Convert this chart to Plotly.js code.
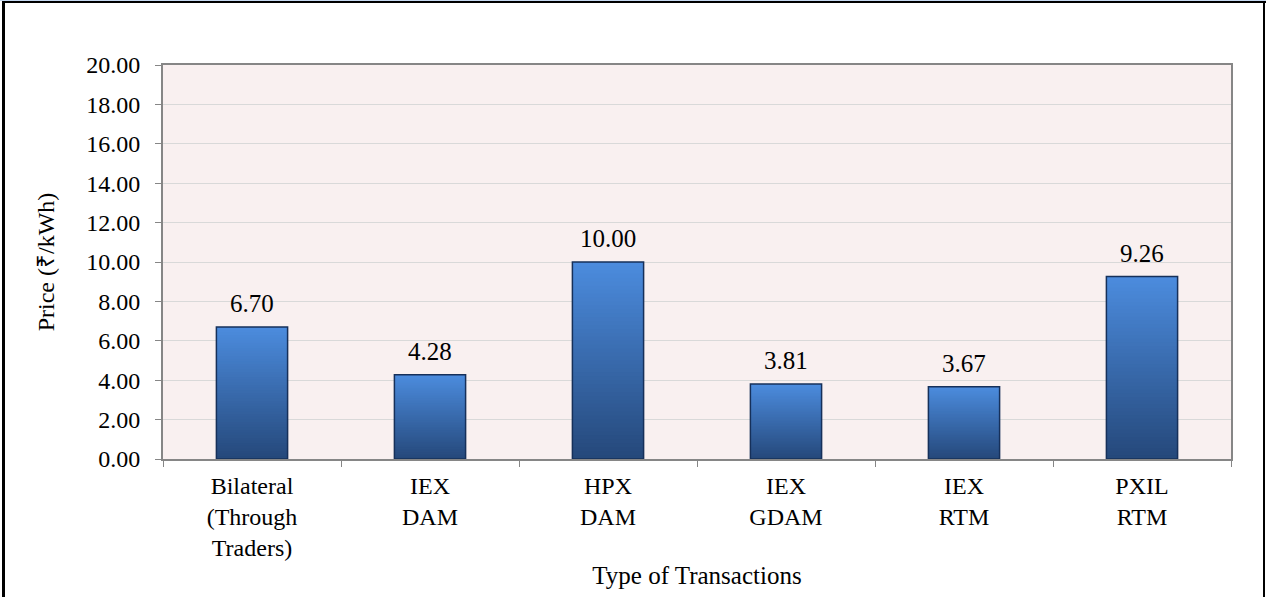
<!DOCTYPE html>
<html>
<head>
<meta charset="utf-8">
<script src="https://cdn.plot.ly/plotly-3.0.1.min.js"></script>
<style>
  html, body { margin: 0; padding: 0; background: #ffffff; }
  #wrap { position: relative; width: 1266px; height: 597px; overflow: hidden; }
  #chart { position: absolute; left: 0; top: 0; width: 1266px; height: 597px; }
  .edge { position: absolute; pointer-events: none; }
</style>
</head>
<body>
<div id="wrap">
  <div id="chart"></div>
  <div class="edge" style="left:0;top:0;width:1266px;height:1px;background:#c6d9f1;"></div>
  <div class="edge" style="left:2px;top:1px;width:1264px;height:2px;background:#000;"></div>
  <div class="edge" style="left:2px;top:1px;width:3px;height:596px;background:#000;"></div>
  <div class="edge" style="left:1263px;top:1px;width:2px;height:596px;background:#000;"></div>
</div>
<script>
const categories = ["Bilateral<br>(Through<br>Traders)", "IEX<br>DAM", "HPX<br>DAM", "IEX<br>GDAM", "IEX<br>RTM", "PXIL<br>RTM"];
const prices = [6.70, 4.28, 10.00, 3.81, 3.67, 9.26];
const valueLabels = ["6.70", "4.28", "10.00", "3.81", "3.67", "9.26"];
const yTitle = "Price (₹/kWh)";
const xTitle = "Type of Transactions";

const FONT = "Liberation Serif";
const topColor = [76, 140, 222];
const bottomColor = [37, 72, 122];
const N = 50;

function mix(t) {
  const c = topColor.map((v, i) => Math.round(bottomColor[i] + (v - bottomColor[i]) * t));
  return "rgb(" + c.join(",") + ")";
}

const traces = [];
for (let i = 0; i < N; i++) {
  traces.push({
    type: "bar",
    x: categories,
    base: prices.map(v => v * i / N),
    y: prices.map(v => v * (N - i) / N),
    width: 0.4,
    marker: { color: mix((i + 0.5) / N), line: { width: 0 } },
    hoverinfo: "skip",
    showlegend: false
  });
}
traces.push({
  type: "bar",
  x: categories,
  y: prices,
  width: 0.4,
  marker: { color: "rgba(0,0,0,0)", line: { color: "#16305a", width: 1.5 } },
  showlegend: false
});

const annotations = categories.map((c, i) => ({
  x: c, y: prices[i], xref: "x", yref: "y",
  text: valueLabels[i], showarrow: false,
  yanchor: "bottom", yshift: 8,
  font: { family: FONT, size: 25, color: "#000" }
}));

const layout = {
  width: 1266, height: 597,
  margin: { l: 163, r: 35, t: 65, b: 138, pad: 0 },
  paper_bgcolor: "#ffffff",
  plot_bgcolor: "#f9f0f0",
  barmode: "overlay",
  showlegend: false,
  font: { family: FONT, size: 24, color: "#000" },
  xaxis: {
    type: "category",
    showline: true, linecolor: "#868686", linewidth: 2, mirror: true,
    ticks: "outside", tickson: "boundaries", ticklen: 6, tickcolor: "#868686",
    showgrid: false,
    ticklabelstandoff: 4,
    tickfont: { family: FONT, size: 24, color: "#000" },
    title: { text: xTitle, font: { family: FONT, size: 25, color: "#000" }, standoff: 6 }
  },
  yaxis: {
    range: [0, 20], dtick: 2, tick0: 0, tickformat: ".2f",
    showline: true, linecolor: "#868686", linewidth: 2, mirror: true,
    ticks: "outside", ticklen: 6, tickcolor: "#868686",
    showgrid: true, gridcolor: "#d9d9d9", gridwidth: 1,
    zeroline: false,
    ticklabelstandoff: 10,
    tickfont: { family: FONT, size: 24, color: "#000" },
    title: { text: yTitle, font: { family: FONT, size: 24, color: "#000" }, standoff: 25 }
  },
  annotations: annotations
};

Plotly.newPlot("chart", traces, layout, { displayModeBar: false, staticPlot: true });
</script>
</body>
</html>
